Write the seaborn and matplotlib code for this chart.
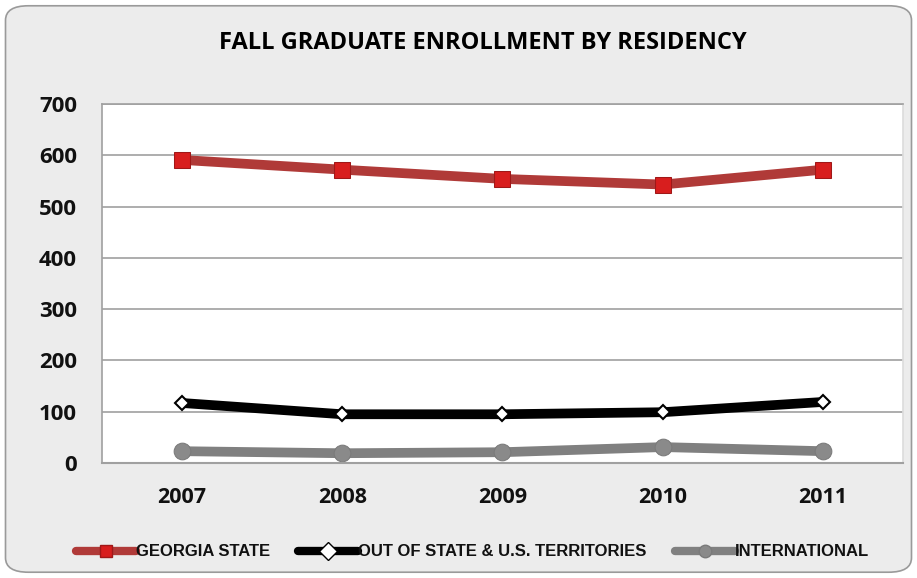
import matplotlib
matplotlib.use("Agg")
import matplotlib.pyplot as plt
from matplotlib.patches import FancyBboxPatch
from matplotlib.lines import Line2D
import seaborn as sns
import pandas as pd

# values
years = ["2007", "2008", "2009", "2010", "2011"]
georgia = [591, 572, 554, 543, 572]
out_of_state = [117, 95, 95, 99, 119]
international = [23, 19, 21, 31, 23]
series_names = ["GEORGIA STATE", "OUT OF STATE & U.S. TERRITORIES", "INTERNATIONAL"]
yticks = [0, 100, 200, 300, 400, 500, 600, 700]

rows = []
for name, vals in zip(series_names, [georgia, out_of_state, international]):
    for yr, v in zip(years, vals):
        rows.append({"year": yr, "count": v, "residency": name})
df = pd.DataFrame(rows)

sns.set_theme(style="white")
plt.rcParams["font.family"] = ["Open Sans", "DejaVu Sans"]

fig = plt.figure(figsize=(9.17, 5.78), dpi=100)
fig.patch.set_facecolor("white")

# rounded chart border
border = FancyBboxPatch((0.006, 0.01), 0.988, 0.98, boxstyle="round,pad=0,rounding_size=0.025",
                        transform=fig.transFigure, facecolor="#ececec", edgecolor="#9a9a9a",
                        linewidth=1.2, zorder=-10)
fig.patches.append(border)

ax = fig.add_axes([0.1112, 0.199, 0.8735, 0.621])
ax.set_facecolor("white")

palette = {"GEORGIA STATE": "#b03a38",
           "OUT OF STATE & U.S. TERRITORIES": "#000000",
           "INTERNATIONAL": "#808080"}
markers = {"GEORGIA STATE": "s",
           "OUT OF STATE & U.S. TERRITORIES": "D",
           "INTERNATIONAL": "o"}

sns.lineplot(data=df, x="year", y="count", hue="residency", style="residency",
             palette=palette, markers=markers, dashes=False, linewidth=7,
             markersize=11, ax=ax, legend=False, sort=False)

# marker styling per series
lines = ax.get_lines()
lines[0].set_markerfacecolor("#d81e1e")
lines[0].set_markeredgecolor("#a01818")
lines[1].set_markerfacecolor("white")
lines[1].set_markeredgecolor("black")
lines[1].set_markersize(7.5)
lines[1].set_markeredgewidth(1.5)
lines[2].set_markerfacecolor("#8a8a8a")
lines[2].set_markeredgecolor("#7a7a7a")
lines[2].set_markersize(12)

ax.set_xlim(-0.5, len(years) - 0.5)
ax.set_ylim(0, 700)
ax.set_yticks(yticks)
ax.yaxis.grid(True, color="#a0a0a0", linewidth=1.2)
ax.set_axisbelow(True)
for s in ["top", "left"]:
    ax.spines[s].set_color("#a0a0a0")
    ax.spines[s].set_linewidth(1.2)
ax.spines["right"].set_color("#dddddd")
ax.spines["bottom"].set_color("#a0a0a0")
ax.spines["bottom"].set_linewidth(1.5)
ax.tick_params(axis="x", length=0, labelsize=15.5, pad=17, labelcolor="#111111")
ax.tick_params(axis="y", length=0, labelsize=16, pad=18, labelcolor="#111111")
for lab in ax.get_xticklabels() + ax.get_yticklabels():
    lab.set_fontweight("bold")
ax.set_xlabel("")
ax.set_ylabel("")

fig.text(0.526, 0.926, "FALL GRADUATE ENROLLMENT BY RESIDENCY", ha="center", va="center",
         fontsize=17, fontweight="bold", color="#000000")

handles = []
for ln in lines:
    handles.append(Line2D([], [], color=ln.get_color(), linewidth=6, marker=ln.get_marker(),
                          markerfacecolor=ln.get_markerfacecolor(),
                          markeredgecolor=ln.get_markeredgecolor(), markersize=9))
leg = fig.legend(handles, series_names, loc="center", bbox_to_anchor=(0.515, 0.045), ncol=3,
                 frameon=False, handlelength=3.6, handletextpad=0.0, columnspacing=1.7,
                 prop={"family": ["Liberation Sans", "DejaVu Sans"], "weight": "bold",
                       "size": 12})
for t in leg.get_texts():
    t.set_color("#111111")

fig.savefig("out.png", dpi=100, facecolor=fig.get_facecolor())
